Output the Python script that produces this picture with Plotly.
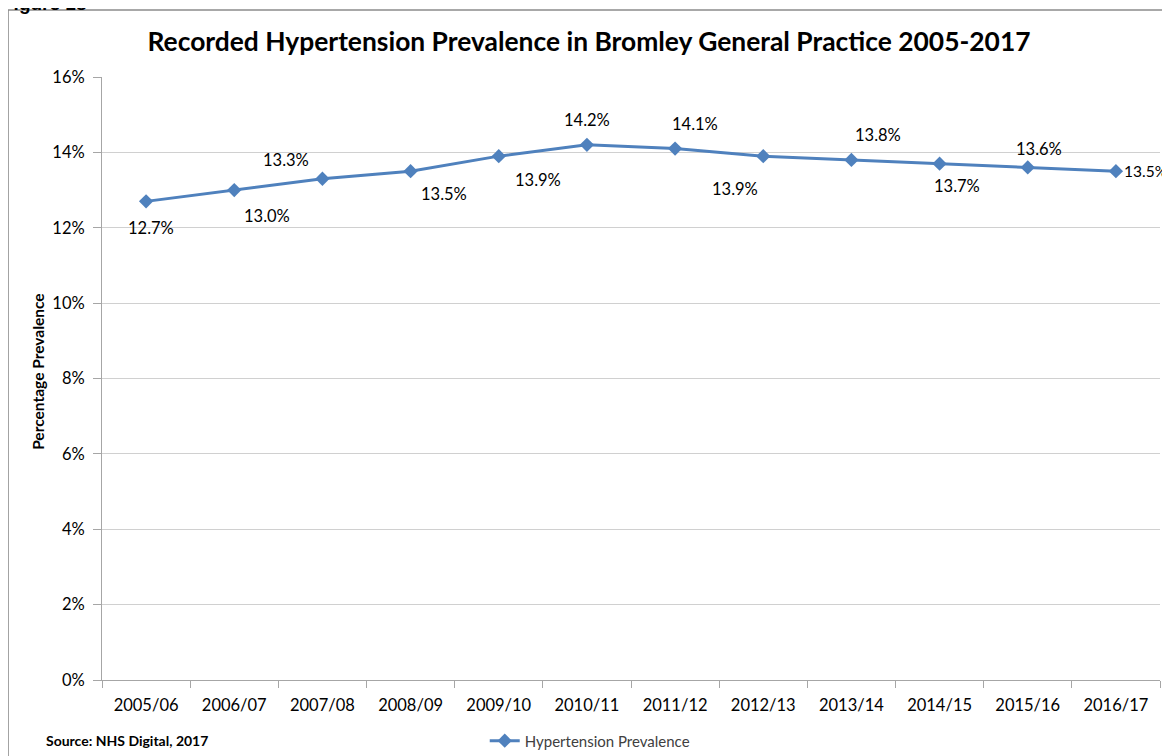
import plotly.graph_objects as go

YEARS = ['2005/06', '2006/07', '2007/08', '2008/09', '2009/10', '2010/11',
         '2011/12', '2012/13', '2013/14', '2014/15', '2015/16', '2016/17']
PREVALENCE = [12.7, 13.0, 13.3, 13.5, 13.9, 14.2, 14.1, 13.9, 13.8, 13.7,
              13.6, 13.5]
# pixel offsets of the data labels, as Excel placed them
LABEL_SHIFTS = [(5, -27), (33, -26), (-36, 19), (33, -23), (39, -24),
                (0, 25), (20, 25), (-28, -33), (27, 25), (17, -22),
                (11, 18), (6, 0)]

LINE_COLOR = '#4f81bd'
FONT = 'Lato'

fig = go.Figure()

fig.add_trace(go.Scatter(
    x=YEARS, y=PREVALENCE,
    mode='lines+markers',
    line={'color': LINE_COLOR, 'width': 3},
    marker={'symbol': 'diamond', 'size': 11, 'color': LINE_COLOR},
    name='Hypertension Prevalence',
    cliponaxis=False,
))

for i, (year, val, (dx, dy)) in enumerate(zip(YEARS, PREVALENCE, LABEL_SHIFTS)):
    last = i == len(YEARS) - 1
    fig.add_annotation(
        x=year, y=val, text=f"{val:.1f}%",
        showarrow=False, xshift=dx, yshift=dy,
        xanchor='left' if last else 'center',
        font={'size': 15.5 if last else 16.5, 'color': '#000', 'family': FONT},
    )

fig.add_annotation(
    text='<b>Percentage Prevalence</b>',
    xref='paper', yref='paper', x=-0.0605, y=0.511,
    xanchor='center', yanchor='middle', textangle=-90, showarrow=False,
    font={'size': 15.5, 'color': '#000', 'family': FONT},
)
fig.add_annotation(
    text='<b>Source: NHS Digital, 2017</b>',
    xref='paper', yref='paper', x=-0.055, y=-0.101,
    xanchor='left', yanchor='middle', showarrow=False,
    font={'size': 14, 'color': '#000', 'family': FONT},
)
fig.add_annotation(
    text='<b>Figure 18</b>',
    xref='paper', yref='paper', x=-0.096, y=1.122,
    xanchor='left', yanchor='middle', showarrow=False,
    font={'size': 19, 'color': '#000', 'family': 'Liberation Sans'},
)

# chart border
fig.add_shape(type='rect', xref='paper', yref='paper',
              x0=-0.0888, y0=-0.2, x1=1.06, y1=1.111,
              line={'color': '#8c8c8c', 'width': 1.5}, layer='below')

fig.update_layout(
    width=1170, height=756,
    margin={'l': 94, 'r': 18, 't': 69, 'b': 84, 'autoexpand': False},
    paper_bgcolor='white', plot_bgcolor='white',
    font={'family': FONT, 'color': '#000'},
    title={'text': '<b>Recorded Hypertension Prevalence in Bromley General Practice 2005-2017</b>',
           'x': 0.5 - 4 / 1170, 'xanchor': 'center', 'y': 0.956, 'yanchor': 'middle',
           'font': {'size': 26.4, 'family': FONT, 'color': '#000'}},
    showlegend=True,
    legend={'orientation': 'h', 'x': 0.461, 'xanchor': 'center',
            'y': -0.101, 'yanchor': 'middle',
            'font': {'size': 15, 'color': '#404040', 'family': FONT}},
)

fig.update_xaxes(
    type='category', range=[-0.5, 11.5], automargin=False,
    showline=True, linecolor='#a6a6a6', linewidth=1,
    ticks='outside', tickson='boundaries', ticklen=7, tickcolor='#a6a6a6',
    ticklabelstandoff=10,
    showgrid=False, tickfont={'size': 16.5, 'color': '#000'},
)
fig.update_yaxes(
    range=[0, 16], dtick=2, ticksuffix='%', automargin=False,
    showline=True, linecolor='#a6a6a6', linewidth=1,
    ticks='outside', ticklen=8, tickcolor='#a6a6a6',
    ticklabelstandoff=5,
    showgrid=True, gridcolor='#d0d0d0', gridwidth=1, zeroline=False,
    tickfont={'size': 16.5, 'color': '#000'},
)

fig.write_html("out.html")
